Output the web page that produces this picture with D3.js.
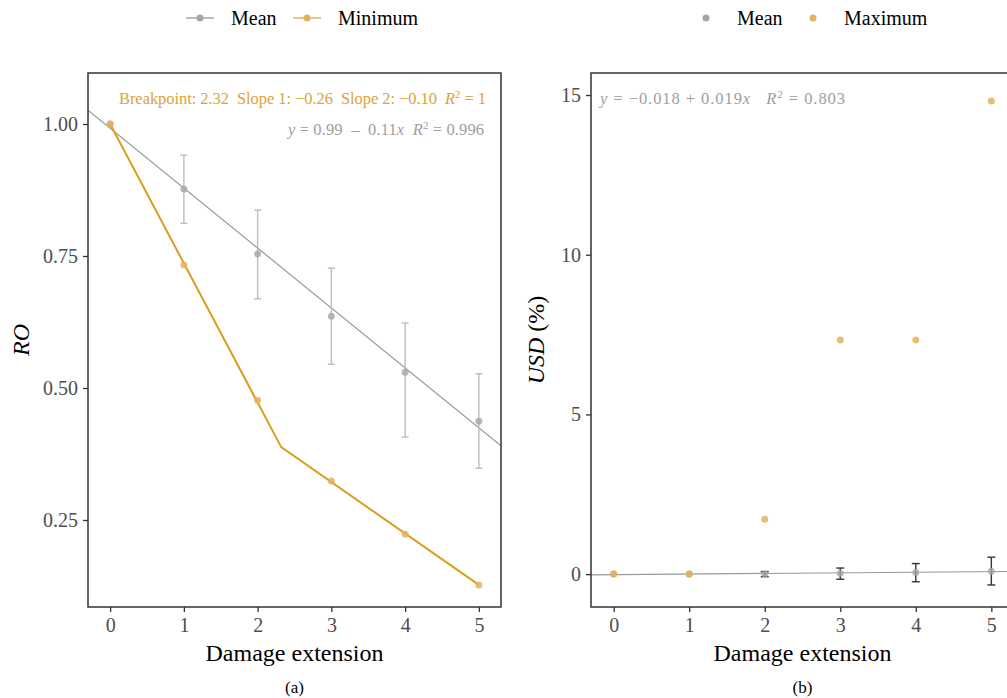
<!DOCTYPE html>
<html>
<head>
<meta charset="utf-8">
<script src="https://cdn.jsdelivr.net/npm/d3@7"></script>
<style>
  body { margin: 0; background: #fff; }
  svg { display: block; font-family: "Liberation Serif", "DejaVu Serif", serif; }
  .annot { white-space: pre; }
</style>
</head>
<body>
<svg id="chart" width="1007" height="698"></svg>
<script>
// damage extension levels
const damage = [0, 1, 2, 3, 4, 5];
const xTicks = [0, 1, 2, 3, 4, 5];

// panel (a): RO
const roMean = [1.00, 0.877, 0.754, 0.636, 0.530, 0.437];
const roLo   = [1.00, 0.812, 0.669, 0.545, 0.407, 0.348];
const roHi   = [1.00, 0.941, 0.837, 0.727, 0.623, 0.527];
const roMin  = [1.00, 0.733, 0.477, 0.324, 0.223, 0.127];
const roBreakX = [0, 2.32, 5];
const roBreakY = [1.00, 0.388, 0.127];
const roFit = [0.992, -0.1135]; // intercept, slope
const roTicks = [0.25, 0.50, 0.75, 1.00];

// panel (b): USD (%)
const usdMean = [0, 0, 0.00, 0.03, 0.05, 0.09];
const usdLo   = [0, 0, -0.08, -0.16, -0.24, -0.34];
const usdHi   = [0, 0, 0.08, 0.19, 0.33, 0.53];
const usdMax  = [0, 0, 1.72, 7.33, 7.33, 14.81];
const usdFit = [-0.018, 0.019];
const usdTicks = [0, 5, 10, 15];

const gray = "#a6a6a6", grayLine = "#999999", errGray = "#bdbdbd";
const orange = "#d99e1f", orangePt = "#e3b35c";
const axisCol = "#333333", tickTxt = "#4d4d4d";

const svg = d3.select("#chart");

function panel(cfg) {
  const g = svg.append("g");
  const x = d3.scaleLinear().domain([-0.3, 5.3]).range([cfg.left, cfg.right]);
  const y = d3.scaleLinear().domain(cfg.yDomain).range([607, 73]);

  const clipId = "clip" + cfg.id;
  svg.append("clipPath").attr("id", clipId).append("rect")
    .attr("x", cfg.left).attr("y", 73)
    .attr("width", cfg.right - cfg.left).attr("height", 534);

  const plot = g.append("g").attr("clip-path", `url(#${clipId})`);

  // axes
  const xAxis = g.append("g").attr("transform", "translate(0,607)")
    .call(d3.axisBottom(x).tickValues(xTicks).tickSize(5).tickPadding(6).tickFormat(d3.format("d")));
  const yAxis = g.append("g").attr("transform", `translate(${cfg.left},0)`)
    .call(d3.axisLeft(y).tickValues(cfg.yTicks).tickSize(5).tickPadding(5).tickFormat(cfg.yFormat));
  [xAxis, yAxis].forEach(a => {
    a.select(".domain").remove();
    a.selectAll(".tick line").attr("stroke", axisCol).attr("stroke-width", 1.3);
    a.selectAll(".tick text").attr("fill", tickTxt).attr("font-size", 20)
      .attr("font-family", "Liberation Serif, DejaVu Serif, serif");
  });

  // fit line
  const fx = x.domain();
  plot.append("line")
    .attr("x1", x(fx[0])).attr("y1", y(cfg.fit[0] + cfg.fit[1] * fx[0]))
    .attr("x2", x(fx[1])).attr("y2", y(cfg.fit[0] + cfg.fit[1] * fx[1]))
    .attr("stroke", grayLine).attr("stroke-width", 1.2);

  // error bars
  const eb = plot.append("g").attr("stroke", cfg.errCol).attr("stroke-width", 1.4);
  damage.forEach((d, i) => {
    if (cfg.hi[i] === cfg.lo[i]) return;
    eb.append("line").attr("x1", x(d)).attr("x2", x(d)).attr("y1", y(cfg.lo[i])).attr("y2", y(cfg.hi[i]));
    [cfg.lo[i], cfg.hi[i]].forEach(v => {
      eb.append("line").attr("x1", x(d) - cfg.cap).attr("x2", x(d) + cfg.cap).attr("y1", y(v)).attr("y2", y(v));
    });
  });

  // mean points
  plot.selectAll(".mean").data(damage).join("circle")
    .attr("cx", d => x(d)).attr("cy", (d, i) => y(cfg.mean[i]))
    .attr("r", 3.5).attr("fill", gray).attr("opacity", 0.8);

  if (cfg.extra) cfg.extra(plot, x, y);

  // panel border
  g.append("rect").attr("x", cfg.left).attr("y", 73)
    .attr("width", cfg.right - cfg.left).attr("height", 534)
    .attr("fill", "none").attr("stroke", axisCol).attr("stroke-width", 1.5);

  // axis titles
  g.append("text").attr("x", (cfg.left + cfg.right) / 2).attr("y", 661)
    .attr("text-anchor", "middle").attr("font-size", 24).attr("fill", "#000")
    .text("Damage extension");
  g.append("text").attr("x", (cfg.left + cfg.right) / 2).attr("y", 693)
    .attr("text-anchor", "middle").attr("font-size", 17).attr("fill", "#000")
    .text(cfg.caption);

  return { g, x, y };
}

// ---- panel (a)
const a = panel({
  id: "a", left: 88, right: 501,
  yDomain: [0.0852, 1.0966], yTicks: roTicks, yFormat: d3.format(".2f"),
  fit: roFit, mean: roMean, lo: roLo, hi: roHi, errCol: errGray, cap: 3.5,
  caption: "(a)",
  extra: (plot, x, y) => {
    plot.append("path")
      .attr("d", d3.line().x(d => x(d[0])).y(d => y(d[1]))(roBreakX.map((v, i) => [v, roBreakY[i]])))
      .attr("fill", "none").attr("stroke", orange).attr("stroke-width", 2);
    plot.selectAll(".min").data(damage).join("circle")
      .attr("cx", d => x(d)).attr("cy", (d, i) => y(roMin[i]))
      .attr("r", 3.5).attr("fill", orangePt).attr("opacity", 0.85);
  }
});
a.g.append("text").attr("transform", "translate(29,340) rotate(-90)")
  .attr("text-anchor", "middle").attr("font-size", 24).attr("font-style", "italic").text("RO");

function annot(g, xPos, yPos, anchor, color, len, parts) {
  const t = g.append("text").attr("class", "annot").attr("x", xPos).attr("y", yPos)
    .attr("text-anchor", anchor).attr("font-size", 16.5).attr("fill", color)
    .attr("textLength", len).attr("lengthAdjust", "spacing");
  parts.forEach(p => {
    const s = t.append("tspan").text(p.t);
    if (p.i) s.attr("font-style", "italic");
    if (p.sup) s.attr("baseline-shift", "super").attr("font-size", 11);
  });
}
annot(a.g, 486, 104, "end", "#dca33a", 367, [
  { t: "Breakpoint: 2.32  Slope 1: \u22120.26  Slope 2: \u22120.10  " },
  { t: "R", i: true }, { t: "2", sup: true }, { t: " = 1" }
]);
annot(a.g, 484, 135, "end", "#9e9e9e", 196, [
  { t: "y", i: true }, { t: " = 0.99  \u2013  0.11" }, { t: "x", i: true }, { t: "  " },
  { t: "R", i: true }, { t: "2", sup: true }, { t: " = 0.996" }
]);

// ---- panel (b)
const b = panel({
  id: "b", left: 591, right: 1014,
  yDomain: [-1.03, 15.69], yTicks: usdTicks, yFormat: d3.format("d"),
  fit: usdFit, mean: usdMean, lo: usdLo, hi: usdHi, errCol: "#333333", cap: 4,
  caption: "(b)",
  extra: (plot, x, y) => {
    plot.selectAll(".max").data(damage).join("circle")
      .attr("cx", d => x(d)).attr("cy", (d, i) => y(usdMax[i]))
      .attr("r", 3.5).attr("fill", orangePt).attr("opacity", 0.85);
  }
});
const usdLab = b.g.append("text").attr("transform", "translate(544,340) rotate(-90)")
  .attr("text-anchor", "middle").attr("font-size", 24);
usdLab.append("tspan").attr("font-style", "italic").text("USD");
usdLab.append("tspan").text(" (%)");
annot(b.g, 600, 104, "start", "#9e9e9e", 245, [
  { t: "y", i: true }, { t: " = \u22120.018 + 0.019" }, { t: "x", i: true }, { t: "   " },
  { t: "R", i: true }, { t: "2", sup: true }, { t: " = 0.803" }
]);

// ---- legends
const leg = svg.append("g").attr("font-size", 20);
function legItem(xPos, color, label, withLine) {
  if (withLine) leg.append("line").attr("x1", xPos - 14).attr("x2", xPos + 14)
    .attr("y1", 18).attr("y2", 18).attr("stroke", color).attr("stroke-width", 1.5);
  leg.append("circle").attr("cx", xPos).attr("cy", 18).attr("r", 3.5).attr("fill", color);
  leg.append("text").attr("x", xPos + 31).attr("y", 25).text(label);
}
legItem(200, gray, "Mean", true);
legItem(307, orangePt, "Minimum", true);
legItem(706, gray, "Mean", false);
legItem(813, orangePt, "Maximum", false);
</script>
</body>
</html>
